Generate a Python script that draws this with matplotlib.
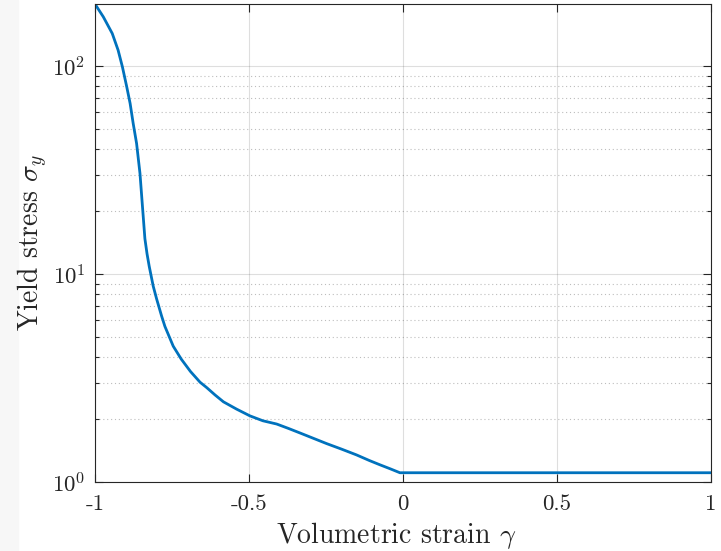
import matplotlib
matplotlib.use("Agg")
import matplotlib.pyplot as plt
from matplotlib.patches import Rectangle
from matplotlib.ticker import LogLocator, NullFormatter, FixedLocator

plt.rcParams['font.family'] = 'serif'
plt.rcParams['font.serif'] = ['cmr10']
plt.rcParams['mathtext.fontset'] = 'cm'
plt.rcParams['axes.formatter.use_mathtext'] = True

# values
strain = [-1.0, -0.973, -0.944, -0.925, -0.911, -0.897, -0.886, -0.876, -0.865,
          -0.854, -0.845, -0.838, -0.831, -0.824, -0.811, -0.800, -0.784, -0.773,
          -0.746, -0.720, -0.690, -0.659, -0.638, -0.610, -0.583, -0.540, -0.497,
          -0.455, -0.410, -0.372, -0.334, -0.290, -0.248, -0.200, -0.151, -0.110,
          -0.075, -0.040, -0.010, 1.0]
stress = [199.0, 172.6, 143.6, 119.4, 99.2, 79.6, 66.2, 53.0, 42.5,
          30.5, 20.3, 14.8, 12.5, 10.9, 8.75, 7.6, 6.3, 5.6,
          4.5, 3.9, 3.4, 3.02, 2.85, 2.62, 2.43, 2.24, 2.08,
          1.97, 1.90, 1.81, 1.72, 1.62, 1.53, 1.44, 1.35, 1.27,
          1.21, 1.155, 1.108, 1.108]

xticks = [-1, -0.5, 0, 0.5, 1]
xticklabels = ['-1', '-0.5', '0', '0.5', '1']

dark = (0.15, 0.15, 0.15)
blue = (0, 0.447, 0.741)

fig = plt.figure(figsize=(7.21, 5.51), dpi=100)
fig.patches.append(Rectangle((0, 0), 18 / 721, 1, transform=fig.transFigure,
                             color='#f7f7f7', zorder=-1))
ax = fig.add_axes([95 / 721, 69 / 551, 616 / 721, 478 / 551])

ax.plot(strain, stress, color=blue, lw=2, solid_joinstyle='round')
ax.set_yscale('log')
ax.set_xlim(-1, 1)
ax.set_ylim(1, 199)

ax.xaxis.set_major_locator(FixedLocator(xticks))
ax.set_xticklabels(xticklabels)
ax.yaxis.set_major_locator(LogLocator(base=10))
ax.yaxis.set_minor_locator(LogLocator(base=10, subs=range(2, 10)))
ax.yaxis.set_minor_formatter(NullFormatter())

ax.grid(True, which='major', color=(0.15, 0.15, 0.15), alpha=0.15, lw=0.8)
ax.grid(True, which='minor', axis='y', color=(0.15, 0.15, 0.15), alpha=0.3,
        lw=0.8, ls=(0, (1, 2.5)))
ax.set_axisbelow(True)

ax.tick_params(which='both', direction='in', top=True, right=True,
               colors=dark, labelsize=16.5, labelcolor=dark)
ax.tick_params(which='major', length=6, width=0.8)
ax.tick_params(which='minor', length=3, width=0.8)
ax.tick_params(axis='x', pad=9)
ax.tick_params(axis='y', pad=7)
for s in ax.spines.values():
    s.set_color(dark)
    s.set_linewidth(0.8)

ax.set_xlabel(r'Volumetric strain $\gamma$', fontsize=20, color=dark)
ax.set_ylabel(r'Yield stress $\sigma_y$', fontsize=20, color=dark)
ax.xaxis.set_label_coords(0.489, -0.08)
ax.yaxis.set_label_coords(-0.073, 0.5)

fig.savefig('out.png', dpi=100, facecolor='white')
